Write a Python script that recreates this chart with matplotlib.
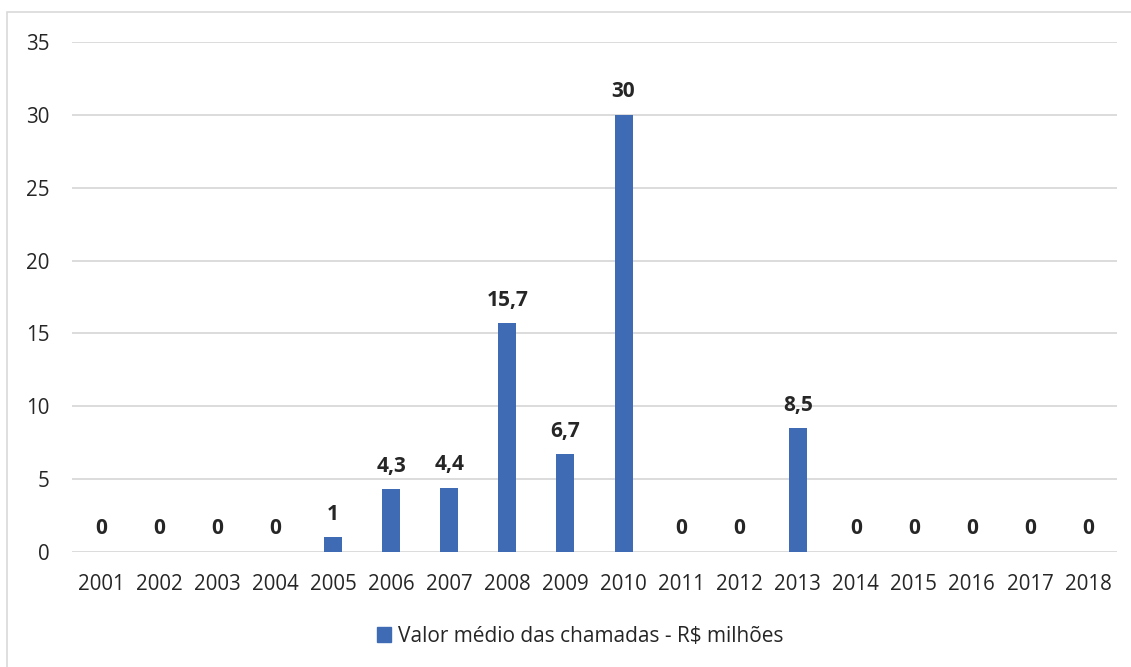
import matplotlib
matplotlib.use("Agg")
import matplotlib.pyplot as plt
from matplotlib.patches import Rectangle, Patch

years = ["2001", "2002", "2003", "2004", "2005", "2006", "2007", "2008", "2009",
         "2010", "2011", "2012", "2013", "2014", "2015", "2016", "2017", "2018"]
values = [0, 0, 0, 0, 1, 4.3, 4.4, 15.7, 6.7, 30, 0, 0, 8.5, 0, 0, 0, 0, 0]
yticks = [0, 5, 10, 15, 20, 25, 30, 35]
series_name = "Valor médio das chamadas - R$ milhões"

plt.rcParams['font.family'] = ['Open Sans', 'DejaVu Sans']
bar_color = '#3F6BB5'
text_color = '#262626'

fig = plt.figure(figsize=(11.31, 6.67), dpi=100)
fig.patches.append(Rectangle((7/1131, -0.1), 1.2, 1 - 12/667 + 0.1, transform=fig.transFigure,
                             fill=False, edgecolor='#D9D9D9', linewidth=1.2))
ax = fig.add_axes([72/1131, 1 - 552/667, (1117 - 72)/1131, (552 - 42)/667])

x = list(range(len(years)))
bars = ax.bar(x, values, width=0.31, color=bar_color, zorder=3)
for xi, v in zip(x, values):
    lbl = f"{v:g}".replace('.', ',')
    ax.annotate(lbl, (xi, v), xytext=(0, 9), textcoords='offset points',
                ha='center', va='bottom', fontsize=15, fontweight='bold', color=text_color)

ax.set_xlim(-0.5, len(years) - 0.5)
ax.set_ylim(0, 35)
ax.set_yticks(yticks)
ax.set_xticks(x)
ax.set_xticklabels(years)
ax.tick_params(axis='both', length=0, labelsize=14.8, colors=text_color)
ax.tick_params(axis='y', pad=16)
ax.tick_params(axis='x', pad=16)
ax.grid(axis='y', color='#D9D9D9', linewidth=1.3, zorder=0)
for s in ax.spines.values():
    s.set_visible(False)

fig.legend(handles=[Patch(color=bar_color, label=series_name)], loc='center',
           bbox_to_anchor=(580/1131, 1 - 636/667), frameon=False, fontsize=15,
           handlelength=0.7, handleheight=0.7, handletextpad=0.3, labelcolor=text_color)

fig.savefig("out.png", dpi=100)
